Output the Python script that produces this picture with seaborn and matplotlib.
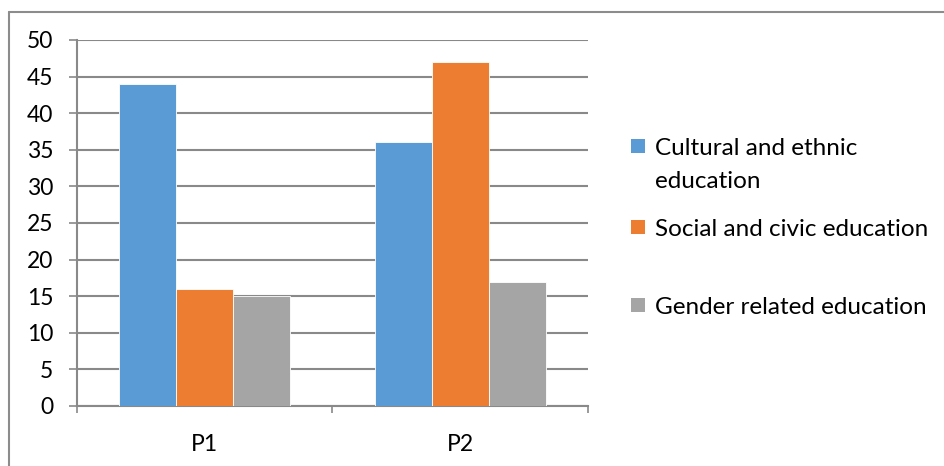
import matplotlib
matplotlib.use("Agg")
import matplotlib.pyplot as plt
from matplotlib.patches import Rectangle
from matplotlib.lines import Line2D
import pandas as pd
import seaborn as sns

# Survey results by period
periods = ["P1", "P2"]
series = ["Cultural and ethnic\neducation", "Social and civic education", "Gender related education"]
cultural = [44, 36]
social = [16, 47]
gender = [15, 17]
colors = ["#5B9BD5", "#ED7D31", "#A5A5A5"]
y_ticks = list(range(0, 55, 5))

df = pd.DataFrame({
    "Period": periods * 3,
    "Series": [series[0]] * 2 + [series[1]] * 2 + [series[2]] * 2,
    "Value": cultural + social + gender,
})

sns.set_theme(style="white")
plt.rcParams["font.family"] = ["Lato", "DejaVu Sans"]

W, H = 944, 466
fig = plt.figure(figsize=(W / 100, H / 100), dpi=100)
ax = fig.add_axes([77 / W, 1 - 406 / H, (588 - 77) / W, (406 - 40) / H])

sns.barplot(data=df, x="Period", y="Value", hue="Series", order=periods,
            hue_order=series, palette=colors, width=0.67, saturation=1,
            edgecolor="white", linewidth=0.6, ax=ax, zorder=3, legend=False)

grid_c = "#898989"
ax.set_ylim(0, 50)
ax.set_xlim(-0.5, 1.5)
ax.set_yticks(y_ticks)
ax.yaxis.grid(True, color=grid_c, linewidth=1.5, zorder=0)
ax.set_axisbelow(True)
ax.tick_params(axis="y", which="major", direction="out", length=6, width=1.2,
               color=grid_c, labelsize=16.5, pad=11, left=True, labelcolor="black")

# category boundary ticks on the x axis, labels at the centres
ax.set_xticks([-0.5, 0.5, 1.5])
ax.set_xticklabels(["", "", ""])
ax.set_xticks([0, 1], minor=True)
ax.set_xticklabels(periods, minor=True)
ax.tick_params(axis="x", which="major", direction="out", length=5, width=1.2,
               color=grid_c, bottom=True)
ax.tick_params(axis="x", which="minor", length=0, labelsize=16.5, pad=20,
               labelcolor="black")

for side in ["top", "right"]:
    ax.spines[side].set_visible(False)
for side in ["left", "bottom"]:
    ax.spines[side].set_color(grid_c)
    ax.spines[side].set_linewidth(1.5)

ax.set_xlabel("")
ax.set_ylabel("")

# legend: colour swatches with labels beside them
swatch_tops = [139, 220, 298]
line_gap = 33
for name, col, top in zip(series, colors, swatch_tops):
    fig.add_artist(Rectangle((631 / W, 1 - (top + 14) / H), 14 / W, 14 / H,
                             transform=fig.transFigure, facecolor=col, edgecolor="none"))
    for i, part in enumerate(name.split("\n")):
        fig.text(655 / W, 1 - (top + 16 + i * line_gap) / H, part,
                 fontsize=17.5, va="baseline", ha="left", color="black")

# outer chart border (top and left edges)
border_c = "#8C8C8C"
fig.add_artist(Line2D([9 / W, 1.0], [1 - 12 / H, 1 - 12 / H], transform=fig.transFigure,
                      color=border_c, linewidth=1.5))
fig.add_artist(Line2D([9 / W, 9 / W], [0.0, 1 - 12 / H], transform=fig.transFigure,
                      color=border_c, linewidth=1.5))

fig.savefig("out.png", dpi=100)
